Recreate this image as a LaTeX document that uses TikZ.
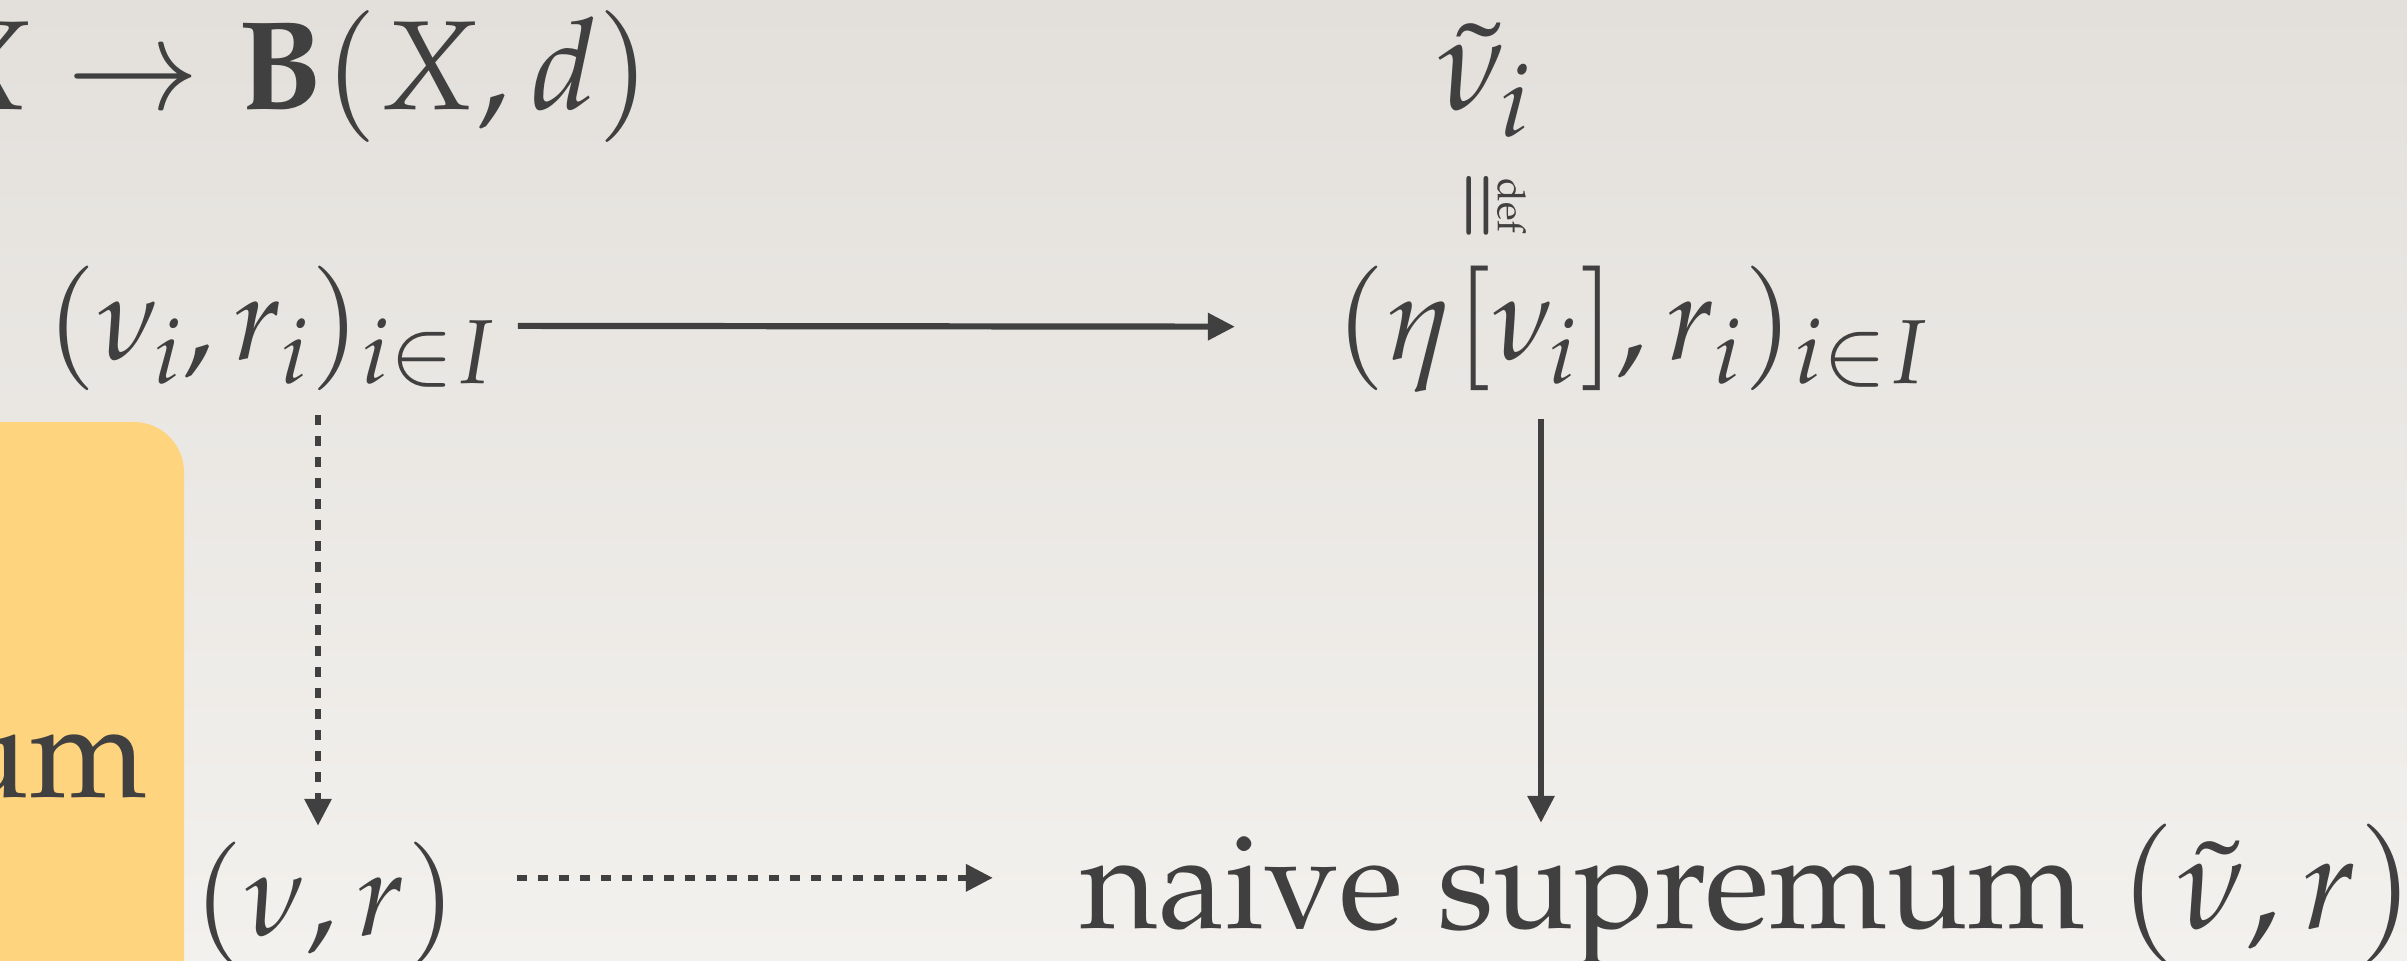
\documentclass[tikz,border=0pt]{standalone}
\usepackage[T1]{fontenc}
\usepackage{mathpazo}
\usepackage{amsmath}
\usepackage{tikz}
\usetikzlibrary{arrows.meta,positioning,calc}
\definecolor{ink}{RGB}{64,64,64}
\definecolor{papertop}{RGB}{227,224,220}
\definecolor{paperbottom}{RGB}{243,241,237}
\definecolor{notefill}{RGB}{255,212,126}

\begin{document}
\begin{tikzpicture}[x=0.01cm, y=-0.01cm,
    term/.style={inner sep=0pt, text=ink, font=\fontsize{38}{44}\selectfont},
    mterm/.style={term, font=\fontsize{34}{40}\selectfont},
    morph/.style={draw=ink, line width=0.062cm, -{Triangle[length=0.27cm,width=0.26cm]}},
    dashmorph/.style={morph, dash pattern=on 0.1cm off 0.11cm}
]

% Paper
\useasboundingbox (0,0) rectangle (2407,961);
\shade[top color=papertop, bottom color=paperbottom] (0,0) rectangle (2407,961);

% Note box (cut by the slide edge)
\fill[notefill, rounded corners=0.5cm] (-80,422) rectangle (184,1080);
\node[term, anchor=base east] (um) at (148,797) {um};

% Objects
\node[term, font=\fontsize{36}{42}\selectfont, anchor=base east] (ball) at (652,110) {$X \to \mathbf{B}(X,d)$};
\node[term, anchor=base west] (nut) at (1436,110) {$\tilde{\nu}_i$};
\node[term, rotate=-90] (eqdef) at (1496,206)
    {\fontsize{21}{24}\selectfont$\overset{\raisebox{-5pt}{\fontsize{11}{12}\selectfont def}}{\boldsymbol{=}}$};
\node[mterm, anchor=base west] (fam) at (45,360) {$(\nu_i, r_i)_{i\in I}$};
\node[mterm, anchor=base west] (etafam) at (1334,360) {$(\eta[\nu_i], r_i)_{i\in I}$};
\node[mterm, anchor=base west] (lim) at (192,935) {$(\nu, r)$};
\node[term, anchor=base west] (naive) at (1080,928) {naive supremum $(\tilde{\nu}, r)$};
\coordinate (dsplit) at (318,0);
\coordinate (split) at (1541,0);

% Morphisms
\draw[morph, shorten <=0.2cm, shorten >=0.99cm] ([yshift=0.03cm]fam.east) -- ([yshift=0.03cm]etafam.west);
\draw[dashmorph, shorten <=0.23cm, shorten >=0.15cm] (fam.south -| dsplit) -- (lim.north -| dsplit);
\draw[morph, shorten <=0.25cm, shorten >=0cm] (etafam.south -| split) -- (naive.north -| split);
\draw[dashmorph, shorten <=0.59cm, shorten >=0.87cm] ([yshift=0.26cm]lim.east) -- ([yshift=0.26cm]lim.east -| naive.west);

\end{tikzpicture}
\end{document}
